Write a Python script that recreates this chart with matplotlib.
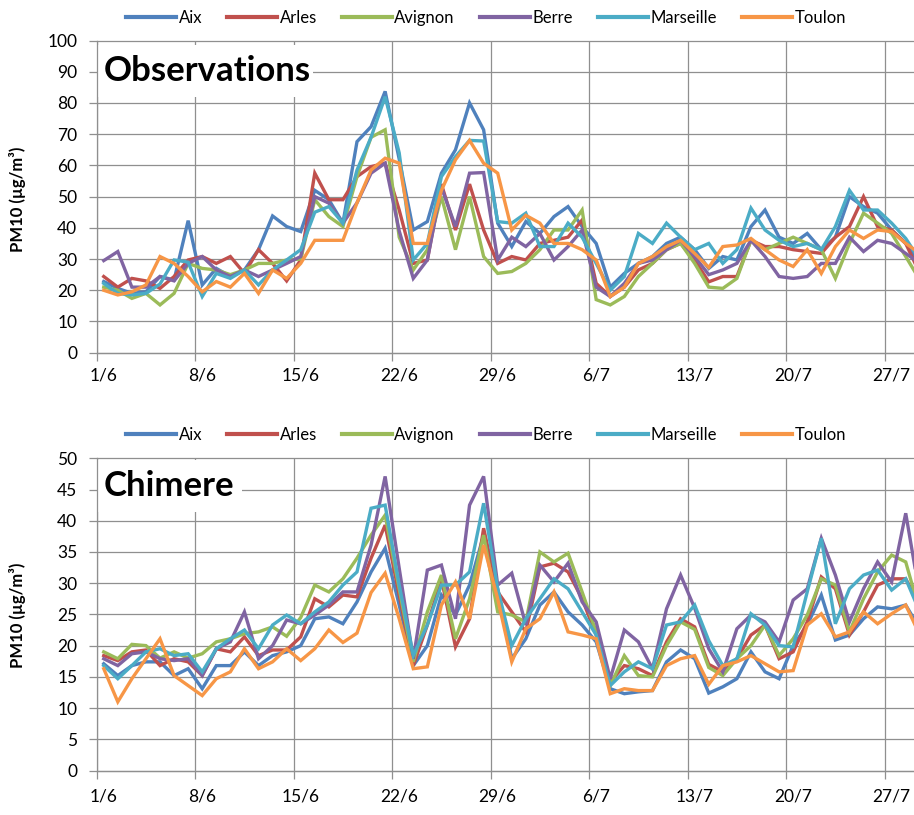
import matplotlib
matplotlib.use("Agg")
import matplotlib.pyplot as plt
from matplotlib.patches import Rectangle
import pandas as pd

plt.rcParams['font.family'] = ['Lato', 'DejaVu Sans']

# ---- data ----
start_date = "2010-06-01"
n_days = 59
tick_labels = ["1/6", "8/6", "15/6", "22/6", "29/6", "6/7", "13/7", "20/7", "27/7"]
stations = ["Aix", "Arles", "Avignon", "Berre", "Marseille", "Toulon"]
colors = ["#4F81BD", "#C0504D", "#9BBB59", "#8064A2", "#4BACC6", "#F79646"]

obs_aix = [22.8, 20.6, 19, 19.5, 24.4, 23.3, 42.3, 21.7, 27, 24.4, 26.5, 33, 43.8, 40.4, 38.8,
           52, 49, 41.5, 67.6, 72.4, 83.7, 62, 39.3, 42, 57.5, 65, 80, 71.4, 41.5,
           34, 42, 38.2, 43.6, 46.8, 40.4, 35, 21, 25.4, 28.6, 30.8, 35, 37, 33,
           27, 30.8, 29.7, 40.4, 45.7, 37, 35, 38.2, 33, 37, 50, 46.8, 44.7, 39.3, 35, 28.6]
obs_arles = [24.4, 21, 23.8, 23, 20.6, 24.4, 29.7, 30.8, 28.6, 30.8, 25.4, 33, 28.6, 23, 29.7,
             57.5, 49, 49, 56.4, 59.6, 60.7, 45.7, 28.6, 29.7, 54, 39.3, 54, 39.3, 28.6,
             30.8, 29.7, 35, 36, 37, 42.5, 22.2, 18, 21, 26.5, 28.6, 33, 35, 29.7,
             22.7, 24.4, 24.4, 36, 34, 34, 33, 32.4, 31.8, 37, 40.4, 50, 40.4, 39.3, 35, 25.4]
obs_avignon = [21, 20, 17.4, 19, 15.3, 19, 28.6, 27, 26.5, 25, 26.5, 28.6, 28.6, 29.7, 30,
               49, 43.6, 40.4, 56.4, 69, 71.4, 37, 26.5, 33, 50, 33, 50, 30.8, 25.4,
               26, 28.6, 33, 39.3, 39.3, 45.7, 17, 15.3, 18, 24.4, 28.6, 33, 35, 28.6,
               21, 20.6, 23.8, 36, 33, 35, 37, 35, 33, 23.8, 35, 44.7, 41.5, 38.2, 30.8, 23.3]
obs_berre = [29.5, 32.4, 21, 21, 24.4, 23, 28.6, 30.8, 26.5, 24.4, 26.5, 24.4, 26.5, 28.6, 30.8,
             50, 47.9, 41.5, 48, 57.5, 60.7, 39, 23.8, 29.7, 53, 40.4, 57.5, 57.7, 29.7,
             37, 34, 38.2, 29.7, 34, 39.3, 21, 18, 22.2, 28.6, 29.7, 33, 36, 30.8,
             25, 26.5, 28.6, 36, 30.8, 24.4, 23.8, 24.4, 28.6, 28.6, 37, 32.4, 36, 35, 31.8, 28.6]
obs_marseille = [22.2, 19, 18.5, 19, 22, 29.7, 29, 18, 25.4, 23.8, 26.5, 21.7, 26.5, 29.7, 33,
                 45, 46.8, 41.5, 58.5, 69, 82, 64, 29.7, 35, 56.4, 62.8, 68, 67.8, 42,
                 41.5, 44.7, 34, 34, 41.5, 37, 28.6, 20, 24.4, 38.2, 35, 41.5, 37, 33,
                 35, 28.6, 33, 46.3, 39.3, 36, 34, 35, 33, 40.4, 52, 45.7, 45.7, 41.5, 36.6, 29.7]
obs_toulon = [20, 18.5, 19.5, 21.7, 30.8, 28.6, 24.4, 19.5, 22.8, 21, 25.4, 19, 26.5, 23.8, 28.6,
              36, 36, 36, 48, 58.5, 62.3, 60.7, 35, 35, 52, 61.8, 68, 60.7, 57.5,
              39.3, 44, 41.5, 35, 35, 33, 29.7, 18, 21, 28.6, 30.8, 34, 36, 31.8,
              27.3, 34, 34.5, 36.6, 33, 29.7, 27.6, 33, 25.4, 34, 39.3, 36.6, 39.3, 38.8, 35, 31.8]

chi_aix = [17.1, 15.2, 16.8, 17.4, 17.4, 15.2, 16.3, 13.1, 16.8, 16.8, 19, 16.8, 18.4, 19, 20,
           24.3, 24.6, 23.5, 27, 31.8, 35.6, 26.5, 16.8, 20, 28.1, 24.9, 29.7, 37.7, 29.1,
           17.9, 21.1, 26.5, 28.6, 25.4, 23.3, 20.6, 13.1, 12.3, 12.6, 12.8, 17.4, 19.3, 17.9,
           12.4, 13.4, 14.7, 19, 15.8, 14.7, 20, 23.3, 28.1, 20.9, 21.7, 24.3, 26.2, 25.9, 26.5, 22.7]
chi_arles = [18.4, 17.6, 19, 19.3, 16.8, 17.9, 17.4, 15.2, 19.5, 19, 21.4, 18.4, 19.3, 19.3, 21.4,
             27.5, 26.2, 28.1, 27.8, 34, 39.3, 28.1, 16.8, 23.3, 30.7, 19.8, 24.3, 38.8, 28.6,
             25.4, 22.2, 32.6, 33.2, 31.8, 27.5, 21.7, 14.2, 16.8, 16.3, 15.2, 20.6, 24.3, 23,
             17, 15.8, 17.9, 21.7, 23.3, 17.9, 19, 23.8, 31, 29.1, 21.7, 25.4, 29.7, 30.7, 30.7, 26.5]
chi_avignon = [19, 17.9, 20.2, 20, 18, 19, 18, 18.7, 20.6, 21.1, 21.9, 22.2, 23, 21.5, 24.5,
               29.7, 28.6, 30.7, 34, 37.7, 40.9, 29.1, 17.4, 25.4, 31.3, 21.1, 27.5, 37.7, 25.4,
               24.9, 23.8, 35, 33.4, 34.8, 28.6, 22.2, 13.6, 18.4, 15.2, 15, 20, 23.8, 22.6,
               16.5, 15.2, 17.9, 20, 23.3, 18.4, 21.1, 24.9, 30.7, 29.7, 22.2, 27.5, 31.8, 34.5, 33.4, 25.4]
chi_berre = [17.9, 16.8, 18.7, 19, 17.9, 17.6, 17.9, 15.2, 19.5, 20.6, 25.4, 17.9, 20, 24.1, 23.5,
             24.9, 26.5, 28.6, 28.6, 36.1, 47.1, 32.4, 17.9, 32.1, 32.9, 24.3, 42.5, 47.1, 29.7,
             31.6, 23.3, 32.9, 30.2, 33.2, 27, 23.8, 14.7, 22.5, 20.6, 16.3, 25.9, 31.3, 26,
             19.5, 15.8, 22.7, 24.9, 23.8, 20.6, 27.3, 29.1, 37.2, 31.3, 23.8, 29.1, 33.4, 30.2, 41.2, 28]
chi_marseille = [16.8, 14.7, 16.8, 19, 19.5, 18.4, 18.7, 15.8, 19.5, 21.1, 22.5, 19.5, 23.3, 24.9, 23.5,
                 25.4, 27, 29.7, 31.8, 42, 42.5, 29.7, 18.4, 23.3, 29.7, 29.7, 31.8, 42.8, 29.1,
                 20, 24.3, 27.5, 30.7, 29.1, 25.4, 21.7, 13.6, 15.8, 17.4, 16.3, 23.3, 23.8, 26.5,
                 20.8, 16.8, 17.9, 25.1, 23.3, 20, 19.8, 28.6, 37.2, 23.5, 29.1, 31.3, 32.1, 28.9, 30.7, 25.4]
chi_toulon = [16.3, 11, 14.7, 17.9, 21.1, 15.2, 13.6, 12, 14.7, 15.8, 19.5, 16.3, 17.4, 19.5, 17.6,
              19.5, 22.5, 20.5, 22, 28.5, 31.6, 24.3, 16.3, 16.6, 26.5, 30.2, 24.3, 36.1, 27.5,
              17.4, 22.7, 24.3, 28.6, 22.2, 21.7, 21.1, 12.3, 13.1, 12.8, 12.8, 16.8, 17.9, 18.4,
              13.8, 16.8, 17.4, 18.4, 17.1, 15.8, 16, 23.3, 25.1, 21.4, 22.2, 25.4, 23.5, 25.1, 26.5, 21.7]

obs_series = [obs_aix, obs_arles, obs_avignon, obs_berre, obs_marseille, obs_toulon]
chi_series = [chi_aix, chi_arles, chi_avignon, chi_berre, chi_marseille, chi_toulon]

dates = pd.date_range(start_date, periods=n_days)
x = list(range(n_days))

W, H = 914, 815
fig = plt.figure(figsize=(W / 100, H / 100), dpi=100)

grid_c = "#8f8f8f"
x_left_px = 96.7
day_px = 14.07


def make_panel(top_px, bot_px, series, ymax, ystep, title, title_box, legend_y_px, ylabel_y_px, xpad):
    ax = fig.add_axes([x_left_px / W, 1 - bot_px / H, (W - x_left_px) / W, (bot_px - top_px) / H])
    for s, c, name in zip(series, colors, stations):
        ax.plot(x, s, color=c, lw=2.4, label=name, zorder=3, solid_joinstyle="miter")
    ax.set_xlim(-0.5, -0.5 + (W - x_left_px) / day_px)
    ax.set_ylim(0, ymax)
    ax.set_yticks(range(0, ymax + 1, ystep))
    ax.set_xticks(range(0, n_days, 7))
    ax.set_xticklabels(tick_labels)
    ax.set_xticks([i - 0.5 for i in range(0, n_days, 7)], minor=True)
    ax.tick_params(axis="x", which="major", length=0, pad=xpad, labelsize=12.5, colors="#000000")
    ax.tick_params(axis="x", which="minor", length=6, color=grid_c, width=0.9)
    ax.tick_params(axis="y", which="major", length=6, color=grid_c, width=0.9, pad=8, labelsize=12.5)
    ax.set_axisbelow(True)
    ax.grid(axis="y", which="major", color=grid_c, lw=0.9, clip_on=False)
    ax.grid(axis="x", which="minor", color=grid_c, lw=0.9)
    for sp in ["top", "right"]:
        ax.spines[sp].set_visible(False)
    for sp in ["left", "bottom"]:
        ax.spines[sp].set_color(grid_c)
        ax.spines[sp].set_linewidth(0.9)
    # title box
    bx0, bx1, by0, by1 = title_box
    h = bot_px - top_px
    ww = W - x_left_px
    ax.add_patch(Rectangle(((bx0 - x_left_px) / ww, (bot_px - by1) / h),
                           (bx1 - bx0) / ww, (by1 - by0) / h,
                           transform=ax.transAxes, facecolor="white", edgecolor="none", zorder=1.5))
    ax.text((bx0 + 7 - x_left_px) / ww, (bot_px - (by0 + by1) / 2) / h, title,
            transform=ax.transAxes, fontsize=25, fontweight="bold", va="center", ha="left", zorder=2)
    leg = ax.legend(loc="center", bbox_to_anchor=(486 / W, 1 - legend_y_px / H), bbox_transform=fig.transFigure,
                    ncol=6, frameon=False, fontsize=12, handlelength=3.0, handletextpad=0.15,
                    columnspacing=1.5, borderaxespad=0)
    for ln in leg.get_lines():
        ln.set_linewidth(3)
    fig.text(18 / W, 1 - ylabel_y_px / H, "PM10 (µg/m³)", rotation=90, fontsize=12,
             fontweight="bold", ha="center", va="center")
    return ax


make_panel(40.5, 352.7, obs_series, 100, 10, "Observations", (97, 313, 45, 97), 18, 199, 11)
make_panel(458.3, 770.5, chi_series, 50, 5, "Chimere", (97, 242, 460, 512), 435, 615, 13)

fig.savefig("out.png", dpi=100)
